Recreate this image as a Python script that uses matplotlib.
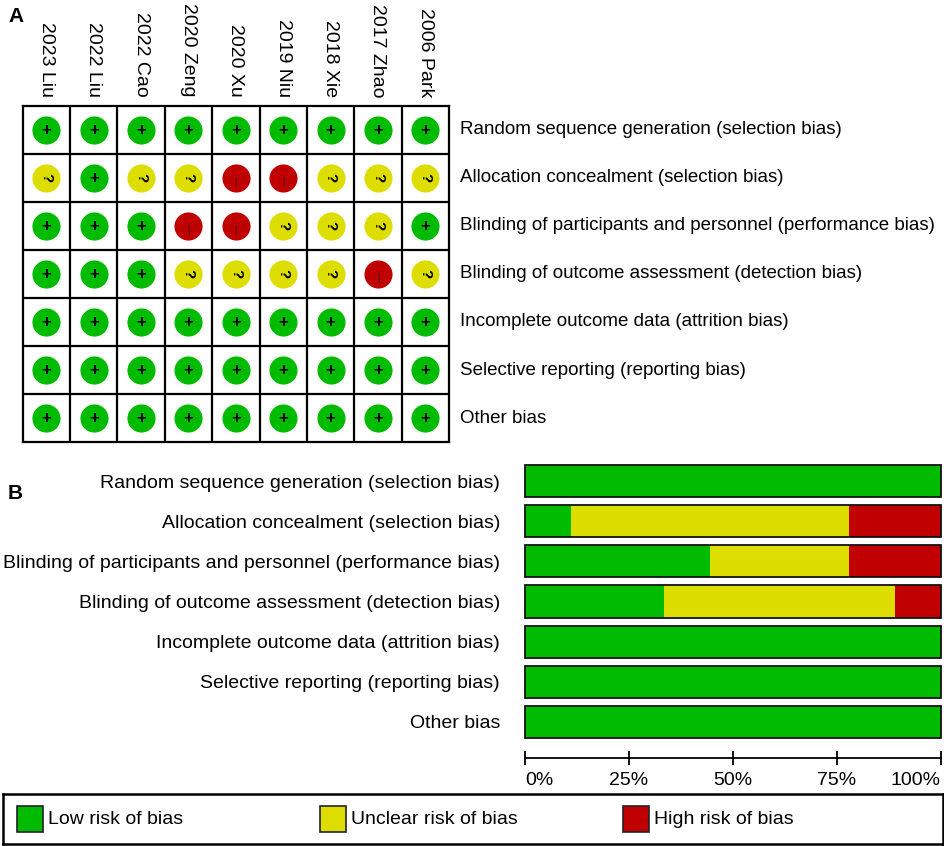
import matplotlib.pyplot as plt
import matplotlib.transforms as mtransforms
from matplotlib.patches import Rectangle
import numpy as np

plt.rcParams['font.family'] = ['Liberation Sans', 'DejaVu Sans']

# studies (columns of panel A)
studies = ["2023 Liu", "2022 Liu", "2022 Cao", "2020 Zeng", "2020 Xu",
           "2019 Niu", "2018 Xie", "2017 Zhao", "2006 Park"]

# bias domains (rows)
domains = ["Random sequence generation (selection bias)",
           "Allocation concealment (selection bias)",
           "Blinding of participants and personnel (performance bias)",
           "Blinding of outcome assessment (detection bias)",
           "Incomplete outcome data (attrition bias)",
           "Selective reporting (reporting bias)",
           "Other bias"]

# judgements per domain, one per study ('+' low, '?' unclear, '-' high)
random_seq = ['+', '+', '+', '+', '+', '+', '+', '+', '+']
allocation = ['?', '+', '?', '?', '-', '-', '?', '?', '?']
blind_part = ['+', '+', '+', '-', '-', '?', '?', '?', '+']
blind_outc = ['+', '+', '+', '?', '?', '?', '?', '-', '?']
incomplete = ['+', '+', '+', '+', '+', '+', '+', '+', '+']
selective = ['+', '+', '+', '+', '+', '+', '+', '+', '+']
other = ['+', '+', '+', '+', '+', '+', '+', '+', '+']
judgements = [random_seq, allocation, blind_part, blind_outc, incomplete, selective, other]

legend_labels = ["Low risk of bias", "Unclear risk of bias", "High risk of bias"]

GREEN = '#00bb00'
YELLOW = '#dddd00'
RED = '#c00000'
colors = {'+': GREEN, '?': YELLOW, '-': RED}

W, H = 945, 846
fig = plt.figure(figsize=(W / 100, H / 100), dpi=100)


def px_axes(x0, y0, x1, y1):
    return fig.add_axes([x0 / W, 1 - y1 / H, (x1 - x0) / W, (y1 - y0) / H])


FS = 14

### Panel A - risk of bias grid
axA = px_axes(22.7, 106, 449, 442)
axA.set_xlim(0, len(studies))
axA.set_ylim(len(domains), 0)
axA.set_xticks([])
axA.set_yticks([])
for s in axA.spines.values():
    s.set_linewidth(1.6)
for i in range(1, len(studies)):
    axA.axvline(i, color='black', lw=1.6)
for j in range(1, len(domains)):
    axA.axhline(j, color='black', lw=1.6)

for r, row in enumerate(judgements):
    for c, val in enumerate(row):
        axA.scatter(c + 0.5, r + 0.5, s=410, color=colors[val], zorder=3, linewidths=0)
        if val == '+':
            axA.text(c + 0.5, r + 0.5, '+', ha='center', va='center', fontsize=12,
                     fontweight='bold', zorder=4)
        elif val == '?':
            axA.text(c + 0.5, r + 0.5, '?', ha='center', va='center', fontsize=11,
                     fontweight='bold', rotation=-90, zorder=4)
        else:
            # high risk: small dark vertical stroke, a bit below centre
            axA.annotate('|', (c + 0.5, r + 0.5), xytext=(0, -3), textcoords='offset points',
                         ha='center', va='center', fontsize=7, color='#111111', zorder=4)

tr_col = mtransforms.blended_transform_factory(axA.transData, fig.transFigure)
for c, name in enumerate(studies):
    fig.text(c + 0.5, 1 - 97 / H, name, transform=tr_col, rotation=270,
             ha='center', va='bottom', fontsize=FS)

tr_row = mtransforms.blended_transform_factory(fig.transFigure, axA.transData)
for r, name in enumerate(domains):
    fig.text(460 / W, r + 0.5, name, transform=tr_row, ha='left', va='center', fontsize=13.5)

fig.text(8 / W, 1 - 17 / H, 'A', fontsize=15, fontweight='bold', ha='left', va='center')

### Panel B - summary bars
n = len(studies)
low = np.array([row.count('+') / n for row in judgements])
unclear = np.array([row.count('?') / n for row in judgements])
high = np.array([row.count('-') / n for row in judgements])
ypos = np.arange(len(domains))

axB = px_axes(525, 461, 941, 742)
axB.barh(ypos, low, height=0.8, color=GREEN, linewidth=0)
axB.barh(ypos, unclear, left=low, height=0.8, color=YELLOW, linewidth=0)
axB.barh(ypos, high, left=low + unclear, height=0.8, color=RED, linewidth=0)
axB.barh(ypos, low + unclear + high, height=0.8, facecolor='none', edgecolor='#111111',
         linewidth=1.3, clip_on=False)
axB.set_xlim(0, 1)
axB.set_ylim(len(domains) - 0.5, -0.5)
axB.set_yticks(ypos)
axB.set_yticklabels(domains, fontsize=FS)
axB.tick_params(axis='y', length=0, pad=18)
for s in ['top', 'left', 'right']:
    axB.spines[s].set_visible(False)
axB.spines['bottom'].set_position(('outward', 11.5))
axB.spines['bottom'].set_linewidth(1.3)
axB.set_xticks([0, 0.25, 0.5, 0.75, 1.0])
axB.set_xticklabels(['0%', '25%', '50%', '75%', '100%'], fontsize=FS)
axB.tick_params(axis='x', direction='inout', length=9.5, width=1.3, pad=5)
xl = axB.get_xticklabels()
xl[0].set_ha('left')
xl[-1].set_ha('right')

fig.text(8 / W, 1 - 493 / H, 'B', fontsize=15, fontweight='bold', ha='left', va='center')

### Legend box
lax = px_axes(3, 794, 943, 844)
lax.set_xlim(0, 940)
lax.set_ylim(50, 0)
lax.set_xticks([])
lax.set_yticks([])
for s in lax.spines.values():
    s.set_linewidth(1.8)
for k, (lab, col) in enumerate(zip(legend_labels, [GREEN, YELLOW, RED])):
    x0 = 14 + k * 303
    lax.add_patch(Rectangle((x0, 12), 26, 26, facecolor=col, edgecolor='#222222', lw=1.2))
    lax.text(x0 + 31, 25, lab, ha='left', va='center', fontsize=FS)

fig.savefig('out.png', dpi=100)
